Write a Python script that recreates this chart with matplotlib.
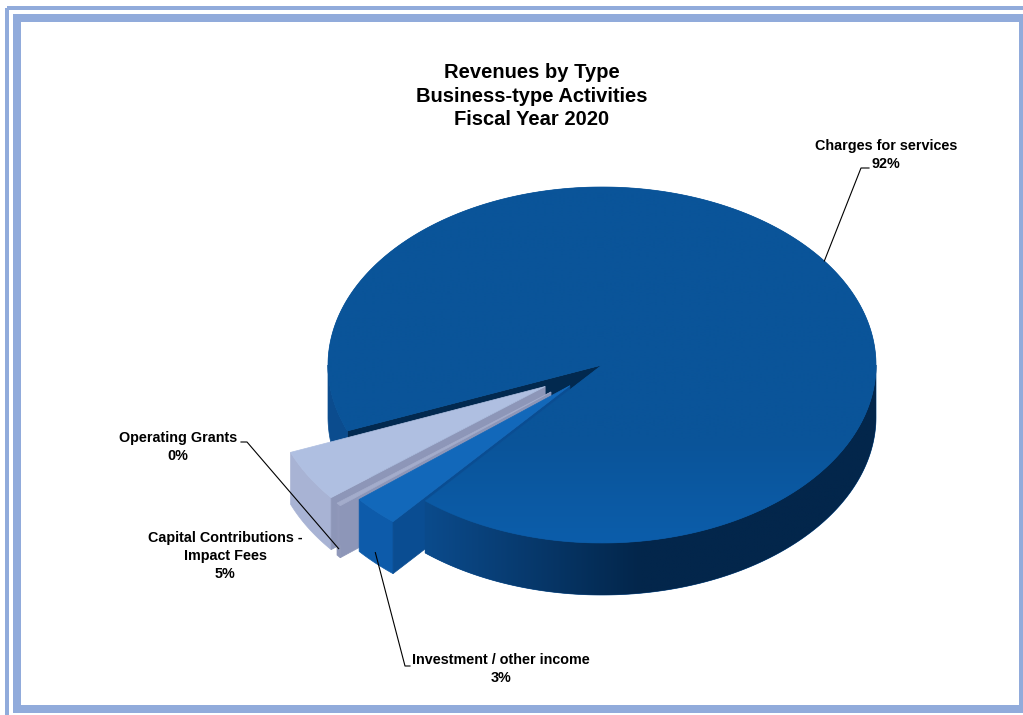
import matplotlib.pyplot as plt
from matplotlib.patches import Polygon, Rectangle
from matplotlib.colors import to_rgb
import numpy as np

# slices go counter-clockwise from start_angle in this order
labels = ['Charges for services', 'Capital Contributions -\nImpact Fees',
          'Operating Grants', 'Investment / other income']
values = [92.2, 4.7, 0.3, 2.8]
explode = [0.0, 0.24, 0.24, 0.165]
top_colors = ['#0A559B', '#AFBFE1', '#A3ACCB', '#1268BA']
side_colors = ['#053262', '#A8B3D4', '#9098BA', '#0D5BAA']
cut_colors = ['#02294F', '#8D96B8', '#8D96B8', '#0A4D92']

title = 'Revenues by Type\nBusiness-type Activities\nFiscal Year 2020'

W, H = 1023, 715
cx, cy = 602, 365
rx, ry = 274, 178
depth = 52
start_angle = 229.8
frame_color = '#91ABDB'
font = 'Liberation Sans'


def point(theta, r=1.0, off=(0, 0), z=0):
    t = np.radians(theta)
    return (cx + off[0] + r * rx * np.cos(t), cy + off[1] - r * ry * np.sin(t) + z)


def offset(mid, e):
    t = np.radians(mid)
    return (e * rx * np.cos(t), -e * ry * np.sin(t))


def poly(ax, pts, color):
    p = Polygon(pts, closed=True, facecolor=color, edgecolor=color, linewidth=0.5)
    ax.add_patch(p)
    return p


def shade(ax, pts, c0, c1, lo, hi, horizontal=True):
    # fill a polygon with a linear gradient running from lo to hi along x (or y)
    p = poly(ax, pts, c0)
    pts = np.array(pts)
    x0, x1 = pts[:, 0].min(), pts[:, 0].max()
    y0, y1 = pts[:, 1].min(), pts[:, 1].max()
    n = 256
    if horizontal:
        u = np.linspace(x0, x1, n)
    else:
        u = np.linspace(y0, y1, n)
    f = np.clip((u - lo) / (hi - lo), 0, 1)[:, None]
    a, b = np.array(to_rgb(c0)), np.array(to_rgb(c1))
    col = a + (b - a) * f
    img = col[None, :, :] if horizontal else col[:, None, :]
    im = ax.imshow(img, extent=(x0, x1, y1, y0), origin='upper', aspect='auto',
                   interpolation='bilinear')
    im.set_clip_path(p)
    im.set_zorder(p.get_zorder())
    return p


def top_pts(a0, a1, off):
    th = np.linspace(a0, a1, max(int(abs(a1 - a0) * 2), 2))
    return [point(0, 0, off)] + [point(t, 1, off) for t in th]


def cut_pts(theta, off):
    return [point(theta, 0, off), point(theta, 1, off),
            point(theta, 1, off, depth), point(theta, 0, off, depth)]


def wall_pts(a0, a1, off):
    th = np.linspace(a0, a1, max(int(abs(a1 - a0) * 2), 2))
    return ([point(t, 1, off) for t in th] +
            [point(t, 1, off, depth) for t in th[::-1]])


fig = plt.figure(figsize=(W / 100, H / 100), dpi=100)
ax = fig.add_axes([0, 0, 1, 1])
ax.set_xlim(0, W)
ax.set_ylim(H, 0)
ax.axis('off')

angles = start_angle + 360 * np.concatenate([[0], np.cumsum(values)]) / sum(values)
mids = (angles[:-1] + angles[1:]) / 2
offs = [offset(m, e) for m, e in zip(mids, explode)]

# back parts of the big slice
poly(ax, cut_pts(angles[1], offs[0]), cut_colors[0])
poly(ax, wall_pts(180, angles[1] - 360, offs[0]), '#0B4C8E')

# exploded small slices
for i in range(1, 4):
    a0, a1 = angles[i], angles[i + 1]
    poly(ax, wall_pts(a0, a1, offs[i]), side_colors[i])
    poly(ax, cut_pts(a1, offs[i]), cut_colors[i])
    poly(ax, top_pts(a0, a1, offs[i]), top_colors[i])

# front of the big slice
shade(ax, wall_pts(angles[0], 360, offs[0]), '#0B4B8C', '#03264B', 425, 640)
shade(ax, top_pts(angles[0], angles[1], offs[0]), '#0A5499', '#0C5DAA', 440, 540,
      horizontal=False)

# title
ax.text(532, 96, title, ha='center', va='center', fontsize=14.5, fontweight='bold',
        family=font, linespacing=1.32)

lab_kw = dict(ha='center', va='center', fontsize=10.4, fontweight='bold', family=font,
              linespacing=1.4)
pct = [f'{v:.0f}%' for v in values]

# Charges for services
ax.text(886, 155, labels[0] + '\n' + pct[0], **lab_kw)
ex, ey = point(mids[0], 1, offs[0])
ax.plot([869, 861, ex], [168, 168, ey], color='black', lw=0.8)

# Capital Contributions
ax.text(225, 556, labels[1] + '\n' + pct[1], **lab_kw)

# Operating Grants
ax.text(178, 447, labels[2] + '\n' + pct[2], **lab_kw)
ex, ey = point(mids[2], 1, offs[2], depth * 0.85)
ax.plot([241, 247, ex], [442, 442, ey], color='black', lw=0.8)

# Investment / other income
ax.text(501, 669, labels[3] + '\n' + pct[3], **lab_kw)
ex, ey = point(mids[3], 1, offs[3], depth * 0.8)
ax.plot([ex, 405, 410], [ey, 666, 666], color='black', lw=0.8)

# double border
ax.add_patch(Rectangle((7, 8), 1040, 720, fill=False, edgecolor=frame_color,
                       linewidth=4 * 0.72, joinstyle='miter'))
ax.add_patch(Rectangle((17, 18), 1006, 691, fill=False, edgecolor=frame_color,
                       linewidth=8 * 0.72, joinstyle='miter'))

fig.savefig('out.png', dpi=100)
